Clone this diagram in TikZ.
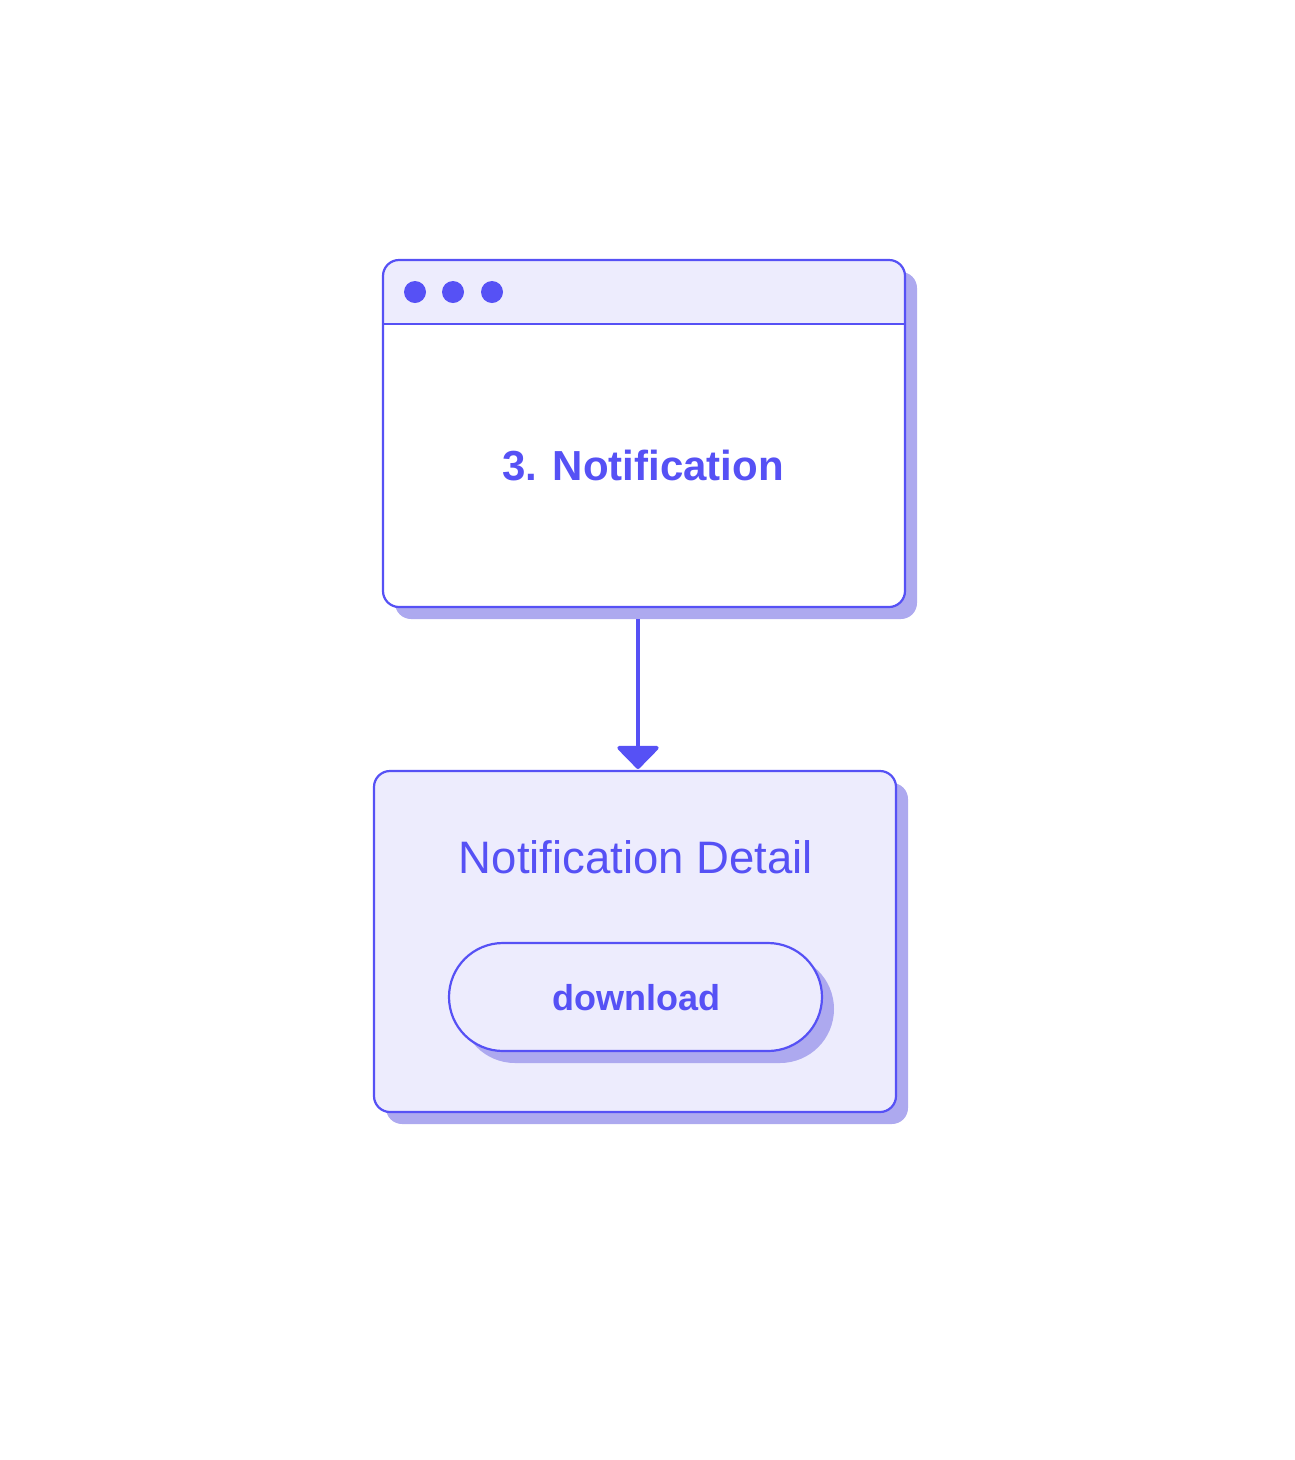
\documentclass[tikz,border=0pt]{standalone}
\usepackage{fontspec}
\setmainfont{Liberation Sans}
\definecolor{ink}{HTML}{5651F5}
\definecolor{pale}{HTML}{EDECFD}
\definecolor{shadowc}{HTML}{ADA9EF}
\usetikzlibrary{arrows.meta}
\tikzset{
  every node/.style={text=ink},
  frame/.style={draw=ink, line width=2.2pt, rounded corners=16pt},
  shadowbox/.style={fill=shadowc, rounded corners=16pt},
  dot/.style={circle, fill=ink, minimum size=22pt, inner sep=0pt},
  flow/.style={draw=ink, line width=4pt, -{Triangle[length=24pt,width=46pt,round]}},
}
\begin{document}
\begin{tikzpicture}[x=1pt,y=-1pt]
\useasboundingbox (0,0) rectangle (1295,1460);
% top window
\fill[shadowbox] (395,272) rectangle (917,619);
\begin{scope}
\clip[rounded corners=16pt] (383,260) rectangle (905,607);
\fill[white] (383,260) rectangle (905,607);
\fill[pale] (383,260) rectangle (905,324);
\end{scope}
\draw[frame] (383,260) rectangle (905,607);
\draw[draw=ink, line width=2.2pt] (383,324) -- (905,324);
\node[dot] (d1) at (415,292) {};
\node[dot] (d2) at (453,292) {};
\node[dot] (d3) at (492,292) {};
\node[font=\fontsize{42}{48}\selectfont\bfseries] (t1) at (643,466) {3. Notification};
\coordinate (win) at (638,619);
% bottom box
\fill[shadowbox] (386,783) rectangle (908,1124);
\draw[frame, fill=pale] (374,771) rectangle (896,1112);
\coordinate (det) at (638,769);
\node[font=\fontsize{45.5}{52}\selectfont] (t2) at (636,857) {Notification Detail};
% button
\fill[fill=shadowc, rounded corners=54pt] (461,955) rectangle (834,1063);
\draw[draw=ink, line width=2.2pt, fill=pale, rounded corners=54pt] (449,943) rectangle (822,1051);
\node[font=\fontsize{36}{42}\selectfont\bfseries] (b) at (636,998) {download};
% connector
\draw[flow] (win) -- (det);
\end{tikzpicture}
\end{document}
